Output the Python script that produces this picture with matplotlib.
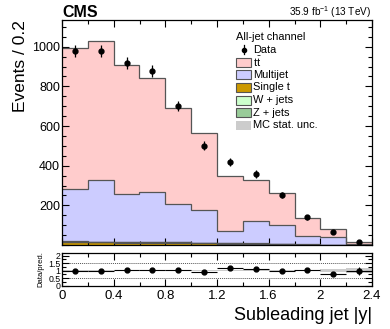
import numpy as np
import matplotlib
matplotlib.use("Agg")
import matplotlib.pyplot as plt
from matplotlib.patches import Rectangle
from matplotlib.lines import Line2D

plt.rcParams['font.family'] = ['Liberation Sans', 'DejaVu Sans']
plt.rcParams['mathtext.fontset'] = 'custom'
plt.rcParams['mathtext.rm'] = 'Liberation Sans'
plt.rcParams['mathtext.it'] = 'Liberation Sans:italic'
plt.rcParams['mathtext.bf'] = 'Liberation Sans:bold'

# ---------------- data ----------------
bin_edges = [0.0, 0.2, 0.4, 0.6, 0.8, 1.0, 1.2, 1.4, 1.6, 1.8, 2.0, 2.2, 2.4]
single_t = [13, 13, 12, 12, 11, 9, 6, 5, 4, 2, 1.5, 0.5]
z_jets   = [2, 2, 2, 2, 2, 2, 2, 2, 1, 0.5, 0.5, 0.2]
w_jets   = [6, 2, 2, 2, 2, 1.5, 1, 1, 1, 0.5, 0.5, 0.2]
multijet = [259, 310, 242, 249, 191, 163, 64, 112, 97, 44, 38.5, 4]
ttbar    = [716, 701, 652, 579, 486, 391, 276, 207, 159, 91, 42, 10]
data_vals = [979, 977, 920, 879, 702, 501, 417, 358, 252, 140, 66, 14]
data_err  = [31, 31, 30, 30, 26, 22, 20, 19, 16, 12, 8, 4]
mc_rel_unc = [0.02, 0.02, 0.025, 0.025, 0.03, 0.05, 0.05, 0.04, 0.04, 0.04, 0.12, 0.16]
xtick_vals = [0, 0.4, 0.8, 1.2, 1.6, 2.0, 2.4]
xtick_labels = ['0', '0.4', '0.8', '1.2', '1.6', '2', '2.4']

edges = np.array(bin_edges)
centers = 0.5 * (edges[:-1] + edges[1:])
halfw = 0.5 * (edges[1:] - edges[:-1])

fig = plt.figure(figsize=(3.9, 3.29), dpi=100)
W, H = 390, 329
def ax_rect(l, t, r, b):
    return [l / W, 1 - b / H, (r - l) / W, (b - t) / H]
def fx(px):
    return px / W
def fy(py):
    return 1 - py / H

ax = fig.add_axes(ax_rect(62, 20, 372, 245))
axr = fig.add_axes(ax_rect(62, 253.3, 372, 285.5))

edge_col = '#555555'
col_tt, col_mj, col_st, col_w, col_z, col_unc = ('#ffcccc', '#ccccff', '#cc9900',
                                                  '#ccffcc', '#99cc99', '#cccccc')
components = [
    (single_t, col_st),
    (z_jets, col_z),
    (w_jets, col_w),
    (multijet, col_mj),
    (ttbar, col_tt),
]
base = np.zeros(len(centers))
for vals, col in components:
    v = np.array(vals, dtype=float)
    ax.stairs(base + v, edges, baseline=base, fill=True, facecolor=col,
              edgecolor='none', zorder=1)
    ax.stairs(base + v, edges, baseline=None, fill=False, color=edge_col,
              lw=0.9, zorder=2)
    base = base + v
total = base

ax.errorbar(centers, data_vals, yerr=data_err, fmt='o', color='black',
            ms=3.5, lw=0.9, capsize=0, zorder=5)

ax.set_xlim(0, 2.4)
ax.set_ylim(0, 1135)
ax.set_yticks([0, 200, 400, 600, 800, 1000])
ax.set_yticklabels(['', '200', '400', '600', '800', '1000'])
ax.set_yticks(np.arange(0, 1135, 50), minor=True)
ax.set_xticks(xtick_vals)
ax.set_xticks(np.arange(0, 2.41, 0.2), minor=True)
ax.set_xticklabels([])
for a in (ax, axr):
    a.tick_params(which='both', direction='in', top=True, right=True,
                  width=0.8, color='black')
    a.tick_params(which='major', length=5)
    a.tick_params(which='minor', length=2.8)
    for s in a.spines.values():
        s.set_linewidth(0.9)
ax.tick_params(axis='y', labelsize=9, pad=1.5)
ax.set_ylabel('Events / 0.2', fontsize=12.5, loc='top', labelpad=3)

fig.text(fx(62), fy(17), 'CMS', fontsize=11.5, fontweight='bold',
         ha='left', va='baseline')
fig.text(fx(371), fy(16), r'35.9 fb$^{\mathregular{-1}}$ (13 TeV)', fontsize=7.2,
         ha='right', va='baseline')

# legend (manual layout)
leg_fs = 7.9
fig.text(fx(236), fy(37), 'All-jet channel', fontsize=leg_fs, ha='left', va='center')
leg_items = [
    ('data', None, 'Data', 49.6),
    ('box', col_tt, r'$\mathrm{t\bar{t}}$', 62.2),
    ('box', col_mj, 'Multijet', 74.8),
    ('box', col_st, 'Single t', 87.4),
    ('box', col_w, 'W + jets', 100),
    ('box', col_z, 'Z + jets', 112.6),
    ('unc', col_unc, 'MC stat. unc.', 125.2),
]
for kind, col, lab, yc in leg_items:
    if kind == 'data':
        fig.add_artist(Line2D([fx(243.5)], [fy(yc)], marker='o', ms=3, color='black',
                              transform=fig.transFigure))
        fig.add_artist(Line2D([fx(243.5), fx(243.5)], [fy(yc - 4.5), fy(yc + 4.5)],
                              lw=0.9, color='black', transform=fig.transFigure))
    else:
        ec = edge_col if kind == 'box' else 'none'
        fig.add_artist(Rectangle((fx(236), fy(yc + 4.5)), 15 / W, 9 / H,
                                 facecolor=col, edgecolor=ec, lw=0.8,
                                 transform=fig.transFigure))
    fig.text(fx(253), fy(yc), lab, fontsize=leg_fs, ha='left', va='center')

# ratio panel
ratio = np.array(data_vals) / total
ratio_err = np.array(data_err) / total
unc = np.array(mc_rel_unc)
axr.stairs(1 + unc, edges, baseline=1 - unc, fill=True, facecolor=col_unc,
           edgecolor='none', zorder=1)
axr.axhline(0.5, color='#555555', lw=0.7, ls=(0, (1, 1)), zorder=0)
axr.axhline(1.5, color='#555555', lw=0.7, ls=(0, (1, 1)), zorder=0)
axr.errorbar(centers, ratio, xerr=halfw, yerr=ratio_err, fmt='o', color='black',
             ms=3.5, lw=0.8, capsize=0, zorder=5)
axr.set_xlim(0, 2.4)
axr.set_ylim(0, 2.15)
axr.set_yticks([0, 0.5, 1, 1.5, 2])
axr.set_yticklabels(['0', '0.5', '1', '1.5', '2'])
axr.set_yticks(np.arange(0, 2.15, 0.25), minor=True)
axr.set_xticks(xtick_vals)
axr.set_xticklabels(xtick_labels)
axr.set_xticks(np.arange(0, 2.41, 0.2), minor=True)
axr.tick_params(axis='y', labelsize=6.3, pad=1)
axr.tick_params(axis='x', labelsize=9.5, pad=3.5)
axr.set_ylabel('Data/pred.', fontsize=5.5, labelpad=3)
axr.set_xlabel('Subleading jet |y|', fontsize=13, loc='right', labelpad=3)

fig.savefig('out.png', dpi=100)
